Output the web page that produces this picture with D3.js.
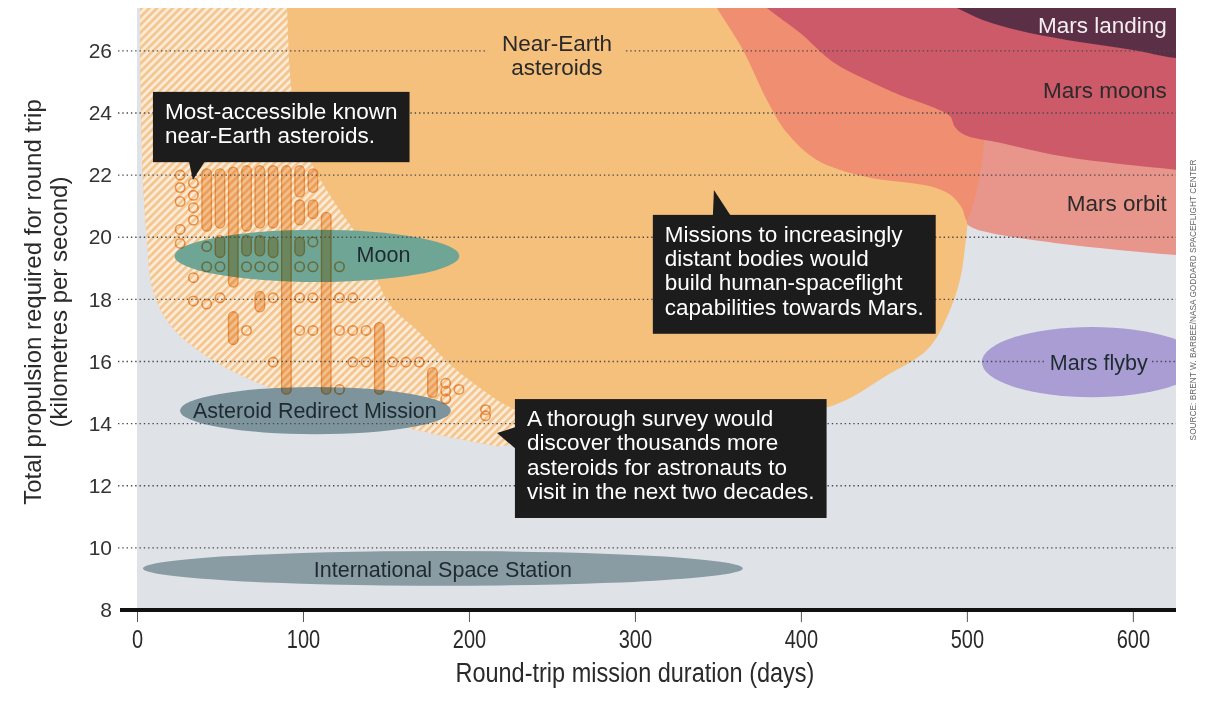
<!DOCTYPE html>
<html>
<head>
<meta charset="utf-8">
<script src="https://cdn.jsdelivr.net/npm/d3@7/dist/d3.min.js"></script>
<style>
  html, body { margin:0; padding:0; background:#ffffff; }
  svg { display:block; }
  text { font-family: "Liberation Sans", Arial, sans-serif; }
</style>
</head>
<body>
<svg id="chart" width="1219" height="702"></svg>
<script>
// ================= DATA =================
const xTickValues = [0, 100, 200, 300, 400, 500, 600];
const yTickValues = [8, 10, 12, 14, 16, 18, 20, 22, 24, 26];
const xDomain = [0, 626];
const yDomain = [8, 27.38];

// Region boundaries: mission duration (days) / propulsion (km/s)
const hatchDays = [1.8, 1.8, 2.4, 3.6, 6.0, 9.6, 19.9, 38.0, 62.0, 92.2, 134.3, 176.5, 206.6, 219.9, 233.7, 230.7, 216.9, 190.4, 170.5, 152.4, 143.4, 134.3, 118.1, 104.2, 94.0, 90.4, 89.8];
const hatchDV   = [28.12, 27.38, 24.42, 21.84, 19.91, 18.30, 17.18, 16.31, 15.57, 14.92, 14.21, 13.70, 13.38, 13.28, 13.54, 14.28, 14.76, 15.82, 16.92, 17.82, 18.79, 19.91, 21.20, 22.49, 24.42, 27.38, 28.12];

const neaDays = [1.8, 1.8, 2.4, 3.6, 6.0, 9.6, 19.9, 38.0, 62.0, 92.2, 134.3, 176.5, 206.6, 219.9, 233.7, 254.8, 309.0, 369.3, 418.7, 451.2, 476.5, 488.6, 495.8, 499.4, 503.0, 507.8, 510.8, 511.4];
const neaDV   = [28.12, 27.38, 24.42, 21.84, 19.91, 18.30, 17.18, 16.31, 15.57, 14.92, 14.21, 13.70, 13.38, 13.28, 13.54, 14.25, 14.18, 14.31, 14.57, 15.53, 16.40, 17.50, 18.62, 19.91, 21.84, 24.42, 27.38, 28.12];

const salmonDays = [342.2, 349.4, 365.1, 379.5, 391.6, 409.6, 439.8, 479.5, 491.0, 497.0, 500.6, 512, 525];
const salmonDV   = [28.03, 27.38, 26.03, 24.42, 23.36, 22.49, 21.94, 21.62, 21.33, 20.94, 20.49, 20.4, 21.5];

const marsOrbitDays = [511.4, 510.2, 506.0, 502.3, 500.0, 504.5, 515.0, 539.8, 580.1, 625.9, 680];
const marsOrbitDV   = [25.71, 22.97, 21.52, 20.80, 20.45, 20.28, 20.13, 19.91, 19.65, 19.43, 19.30];

const marsMoonsDays = [369.4, 379.5, 399.4, 419.3, 439.8, 459.6, 480.7, 489.8, 492.8, 498.8, 519.9, 560.2, 625.9, 680];
const marsMoonsDV   = [27.86, 27.38, 26.58, 25.64, 25.06, 24.58, 24.16, 23.90, 23.55, 23.29, 23.04, 22.58, 22.17, 21.90];

const marsLandingDays = [471.7, 494.0, 509.6, 530.1, 560.2, 600.0, 625.9, 680];
const marsLandingDV   = [27.93, 27.38, 26.99, 26.67, 26.35, 26.03, 25.77, 25.50];

// Mission ellipses (centre and half-extent in data units)
const missionNames   = ["Moon", "Asteroid Redirect Mission", "International Space Station", "Mars flyby"];
const missionDay     = [108.4, 107.5, 184.3, 575.3];
const missionDV      = [19.40, 14.42, 9.34, 15.98];
const missionDayHalf = [85.8, 81.6, 180.7, 66.3];
const missionDVHalf  = [0.84, 0.76, 0.56, 1.13];
const missionLabelDay = [148.5, 107.2, 184.3, 579.5];
const missionLabelDV  = [19.43, 14.41, 9.29, 15.98];

// Most-accessible known near-Earth asteroids: single trajectories
const asteroidDays = [26,26,26,26,26, 34,34,34,34,34,34, 42,42,42, 50,50, 66,66, 74, 82,82,82, 98,98,98, 106,106,106,106, 122,122,122,122, 130,130,130, 138,138, 154, 162, 170, 186,186,186, 194, 210,210];
const asteroidDV   = [22.0,21.6,21.15,20.25,19.8, 21.75,21.35,20.95,20.55,18.7,17.95, 19.7,19.05,17.85, 19.05,18.05, 19.05,17.0, 19.05, 19.05,18.05,15.98, 19.05,18.05,17.0, 19.85,19.05,18.05,17.0, 19.05,18.05,17.0,15.1, 18.05,17.0,15.98, 17.0,15.98, 15.98, 15.98, 15.98, 15.3,15.05,14.8, 15.1, 14.45,14.25];
// stacked runs of trajectories (same duration, consecutive propulsion values)
const runDays   = [42, 50, 58, 66, 74, 82, 90, 98, 98, 106, 106, 114, 50, 66, 74, 82, 98, 58, 74, 146, 178];
const runTopDV  = [22.05, 22.05, 22.1, 22.15, 22.15, 22.15, 22.15, 22.15, 21.05, 22.05, 21.05, 20.65, 19.9, 19.9, 19.9, 19.85, 19.85, 17.45, 18.1, 17.1, 15.65];
const runBotDV  = [20.35, 20.45, 18.55, 20.35, 20.45, 20.45, 15.1, 21.45, 20.55, 21.6, 20.75, 15.1, 19.5, 19.55, 19.55, 19.5, 19.55, 16.7, 17.75, 15.1, 15.0];

// Text
const regionLabelText = ["Mars landing", "Mars moons", "Mars orbit"];
const regionLabelDay  = [620.5, 620.5, 620.5];
const regionLabelDV   = [26.83, 24.74, 21.10];
const neaLabelLines = ["Near-Earth", "asteroids"];
const neaLabelDay = 253;
const neaLabelDV  = [26.26, 25.48];

const calloutText1 = ["Most-accessible known", "near-Earth asteroids."];
const calloutText2 = ["Missions to increasingly", "distant bodies would", "build human-spaceflight", "capabilities towards Mars."];
const calloutText3 = ["A thorough survey would", "discover thousands more", "asteroids for astronauts to", "visit in the next two decades."];

const xTitle = "Round-trip mission duration (days)";
const yTitleLines = ["Total propulsion required for round trip", "(kilometres per second)"];
const sourceText = "SOURCE: BRENT W. BARBEE/NASA GODDARD SPACEFLIGHT CENTER";

// ================= CHART =================
const svg = d3.select('#chart');
const x = d3.scaleLinear().domain(xDomain).range([137, 1176]);
const y = d3.scaleLinear().domain(yDomain).range([610, 8]);
const px0 = x.range()[0], px1 = x.range()[1];
const pyB = y.range()[0], pyT = y.range()[1];

const defs = svg.append('defs');
defs.append('clipPath').attr('id', 'plotClip').append('rect')
  .attr('x', px0).attr('y', pyT).attr('width', px1 - px0).attr('height', pyB - pyT);
const pat = defs.append('pattern').attr('id', 'hatch').attr('patternUnits', 'userSpaceOnUse')
  .attr('width', 5.5).attr('height', 5.5).attr('patternTransform', 'rotate(45)');
pat.append('rect').attr('width', 5.5).attr('height', 5.5).attr('fill', '#fbebd6');
pat.append('rect').attr('width', 2.6).attr('height', 5.5).attr('fill', '#f4c48d');

// plot background
svg.append('rect').attr('x', px0).attr('y', pyT).attr('width', px1 - px0).attr('height', pyB - pyT)
  .attr('fill', '#dfe3e7');

const curve = d3.line().curve(d3.curveCatmullRom.alpha(0.5));
function regionPath(days, dvs, closeDays, closeDvs) {
  let p = curve(days.map((d, i) => [x(d), y(dvs[i])]));
  closeDays.forEach((d, i) => { p += 'L' + x(d) + ',' + y(closeDvs[i]); });
  return p + 'Z';
}

const gRegions = svg.append('g').attr('clip-path', 'url(#plotClip)');
const regions = [
  { d: regionPath(neaDays, neaDV, [], []), fill: '#f5c07c' },
  { d: regionPath(hatchDays, hatchDV, [], []), fill: 'url(#hatch)' },
  { d: regionPath(salmonDays, salmonDV, [525], [28.5]), fill: '#ef8e70' },
  { d: regionPath(marsOrbitDays, marsOrbitDV, [680], [25.71]), fill: '#e8968c' },
  { d: regionPath(marsMoonsDays, marsMoonsDV, [680], [28.5]), fill: '#cc5a68' },
  { d: regionPath(marsLandingDays, marsLandingDV, [680], [28.5]), fill: '#5b3047' }
];
gRegions.selectAll('path').data(regions).join('path')
  .attr('d', r => r.d).attr('fill', r => r.fill);

// mission ellipses
const ellipseFill = ['#6fa595', '#7d949c', '#8a9ca3', '#a99dd3'];
const gEll = svg.append('g').attr('clip-path', 'url(#plotClip)');
gEll.selectAll('ellipse').data(missionNames).join('ellipse')
  .attr('cx', (d, i) => x(missionDay[i]))
  .attr('cy', (d, i) => y(missionDV[i]))
  .attr('rx', (d, i) => x(missionDay[i] + missionDayHalf[i]) - x(missionDay[i]))
  .attr('ry', (d, i) => y(missionDV[i] - missionDVHalf[i]) - y(missionDV[i]))
  .attr('fill', (d, i) => ellipseFill[i]);

// asteroids
const r = 4.7;
const gAst = svg.append('g').attr('clip-path', 'url(#plotClip)').style('mix-blend-mode', 'multiply');
gAst.selectAll('rect').data(runDays).join('rect')
  .attr('x', (d) => x(d) - r)
  .attr('y', (d, i) => y(runTopDV[i]) - r)
  .attr('width', 2 * r)
  .attr('height', (d, i) => y(runBotDV[i]) - y(runTopDV[i]) + 2 * r)
  .attr('rx', r)
  .attr('fill', '#f0ae66').attr('fill-opacity', 0.6)
  .attr('stroke', '#eda55c').attr('stroke-width', 1.4);
gAst.selectAll('circle').data(asteroidDays).join('circle')
  .attr('cx', d => x(d))
  .attr('cy', (d, i) => y(asteroidDV[i]))
  .attr('r', r)
  .attr('fill', 'none')
  .attr('stroke', '#eda55c').attr('stroke-width', 1.6);

// placeholders for order
const gGrid = svg.append('g');
const gAxis = svg.append('g');
const gLabels = svg.append('g');
const gCall = svg.append('g');

// labels
const labelColor = '#2a2a2a';
const neaText = gLabels.append('text').attr('text-anchor', 'middle').attr('font-size', 22.5).attr('fill', labelColor);
neaLabelLines.forEach((t, i) => {
  neaText.append('tspan').attr('x', x(neaLabelDay)).attr('y', y(neaLabelDV[i])).attr('dy', '0.35em').text(t);
});
gLabels.selectAll('text.region').data(regionLabelText).join('text').attr('class', 'region')
  .attr('x', (d, i) => x(regionLabelDay[i]))
  .attr('y', (d, i) => y(regionLabelDV[i]))
  .attr('dy', '0.35em')
  .attr('text-anchor', 'end').attr('font-size', 22.5)
  .attr('fill', (d, i) => i === 0 ? '#f4eef1' : labelColor)
  .text(d => d);
const missionText = gLabels.selectAll('text.mission').data(missionNames).join('text').attr('class', 'mission')
  .attr('x', (d, i) => x(missionLabelDay[i]))
  .attr('y', (d, i) => y(missionLabelDV[i]))
  .attr('dy', '0.35em')
  .attr('text-anchor', 'middle').attr('font-size', 21.5)
  .attr('fill', '#1e2a30')
  .text(d => d);

// gridlines with gaps around labels
const gapBoxes = [];
const nb = neaText.node().getBBox(); gapBoxes.push({ b: nb, pad: 14 });
missionText.each(function (d, i) {
  if (i === 1) gapBoxes.push({ b: this.getBBox(), pad: 12 });
  if (i === 3) gapBoxes.push({ b: this.getBBox(), pad: 4 });
});
yTickValues.filter(v => v !== yDomain[0]).forEach(v => {
  const yp = y(v);
  let segs = [[118, px1]];
  gapBoxes.forEach(({ b, pad }) => {
    if (yp >= b.y && yp <= b.y + b.height) {
      const g0 = b.x - pad, g1 = b.x + b.width + pad;
      const ns = [];
      segs.forEach(([a, c]) => {
        if (g1 <= a || g0 >= c) { ns.push([a, c]); return; }
        if (g0 > a) ns.push([a, g0]);
        if (g1 < c) ns.push([g1, c]);
      });
      segs = ns;
    }
  });
  segs.forEach(([a, c]) => {
    gGrid.append('line').attr('x1', a).attr('x2', c).attr('y1', yp).attr('y2', yp)
      .attr('stroke', '#4a4a4a').attr('stroke-width', 1.4)
      .attr('stroke-dasharray', '1.4,2.9');
  });
});

// x axis
const xAxis = d3.axisBottom(x).tickValues(xTickValues).tickSize(11).tickPadding(8).tickFormat(d3.format('d'));
const gx = gAxis.append('g').attr('transform', `translate(0,${pyB + 1})`).call(xAxis);
gx.select('.domain').remove();
gx.selectAll('.tick line').attr('stroke', '#555').attr('stroke-width', 1);
gx.selectAll('.tick text').attr('fill', '#2a2a2a').attr('font-size', 25)
  .attr('transform', 'scale(0.8,1)')
  .attr('font-family', '"Liberation Sans",Arial,sans-serif');

gAxis.append('line').attr('x1', 120).attr('x2', px1).attr('y1', pyB).attr('y2', pyB)
  .attr('stroke', '#111').attr('stroke-width', 4);

// y axis labels
const yAxis = d3.axisLeft(y).tickValues(yTickValues).tickSize(0).tickPadding(0).tickFormat(d3.format('d'));
const gy = gAxis.append('g').attr('transform', 'translate(112,0)').call(yAxis);
gy.select('.domain').remove();
gy.selectAll('.tick text').attr('fill', '#333').attr('font-size', 21)
  .attr('font-family', '"DejaVu Sans",sans-serif');

// titles
gAxis.append('text').attr('transform', `translate(${x(300)},682) scale(0.87,1)`).attr('text-anchor', 'middle')
  .attr('font-size', 27).attr('fill', '#2a2a2a')
  .text(xTitle);
yTitleLines.forEach((t, i) => {
  gAxis.append('text').attr('transform', `translate(${41 + i * 26},302) rotate(-90)`)
    .attr('text-anchor', 'middle').attr('font-size', 24).attr('fill', '#2a2a2a').text(t);
});
gAxis.append('text').attr('transform', `translate(1196,300) rotate(-90)`)
  .attr('text-anchor', 'middle').attr('font-size', 8.3).attr('fill', '#666').text(sourceText);

// callouts
const callouts = [
  { lines: calloutText1, day: 9.6, dv: 24.68, edge: 'bottom', a: 36, b: 52, tipDay: 33.7, tipDV: 21.84 },
  { lines: calloutText2, day: 310.8, dv: 20.72, edge: 'top', a: 60, b: 78, tipDay: 347.6, tipDV: 21.52 },
  { lines: calloutText3, day: 227.7, dv: 14.79, edge: 'left', a: 28, b: 50, tipDay: 216.9, tipDV: 13.70 }
];
callouts.forEach(c => {
  const g = gCall.append('g');
  const bx = x(c.day), by = y(c.dv);
  const rect = g.append('rect');
  const poly = g.append('path');
  const t = g.append('text').attr('font-size', 22.5).attr('fill', '#ffffff');
  c.lines.forEach((ln, i) => {
    t.append('tspan').attr('x', bx + 12).attr('y', by + 27 + i * 24.3).text(ln);
  });
  const w = t.node().getBBox().width + 24;
  const h = 27 + (c.lines.length - 1) * 24.3 + 19;
  rect.attr('x', bx).attr('y', by).attr('width', w).attr('height', h).attr('fill', '#1c1c1c');
  const tx = x(c.tipDay), ty = y(c.tipDV);
  let pts;
  if (c.edge === 'bottom') pts = [[bx + c.a, by + h - 1], [bx + c.b, by + h - 1], [tx, ty]];
  else if (c.edge === 'top') pts = [[bx + c.a, by + 1], [bx + c.b, by + 1], [tx, ty]];
  else pts = [[bx + 1, by + c.a], [bx + 1, by + c.b], [tx, ty]];
  poly.attr('d', d3.line()(pts) + 'Z').attr('fill', '#1c1c1c');
});
</script>
</body>
</html>
